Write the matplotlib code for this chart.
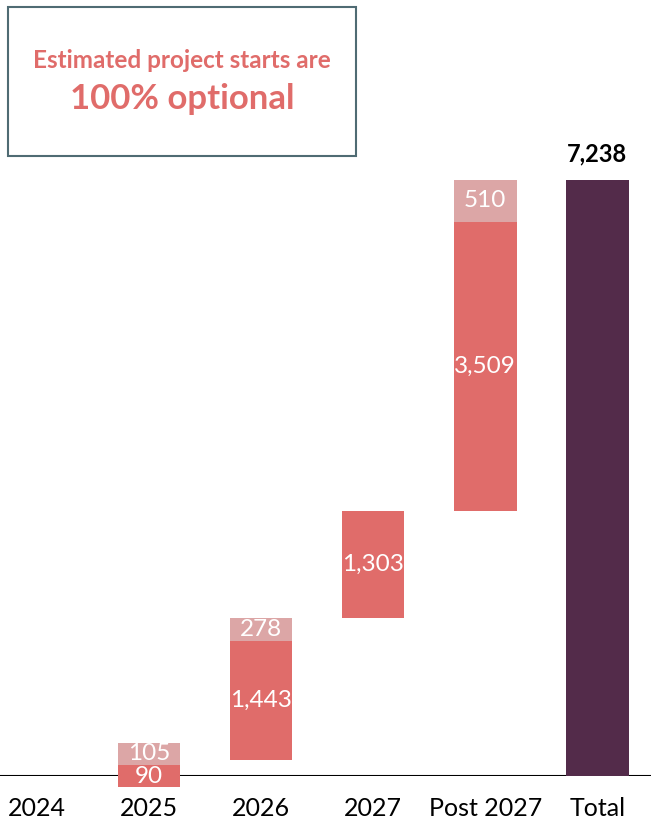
import matplotlib.pyplot as plt
from matplotlib.patches import Rectangle

plt.rcParams['font.family'] = ['Lato', 'DejaVu Sans']

categories = ['2024', '2025', '2026', '2027', 'Post 2027', 'Total']
# firm starts (dark) and additional starts (light) per year
firm = [0, 90, 1443, 1303, 3509]
extra = [0, 105, 278, 0, 510]
total = 7238

dark = '#E06C6A'
light = '#DCA6A6'
total_col = '#532B4A'

fig = plt.figure(figsize=(6.51, 8.21), dpi=100)
ax = fig.add_axes([0, 45 / 821, 1, 776 / 821])

w = 0.56
min_h = 270  # smallest drawn segment so labels fit
cum = 0
for i, (f, e) in enumerate(zip(firm, extra)):
    if f + e == 0:
        continue
    small = f < min_h
    if small:
        b = cum - min_h / 2
    else:
        b = cum
    hf = max(f, min_h)
    ax.bar(i, hf, bottom=b, width=w, color=dark, zorder=3, clip_on=False)
    ax.text(i, b + hf / 2, f'{f:,}', ha='center', va='center', color='white', fontsize=17.5, zorder=4)
    b2 = b + hf if small else cum + f
    if e:
        he = max(e, min_h)
        ax.bar(i, he, bottom=b2, width=w, color=light, zorder=3, clip_on=False)
        ax.text(i, b2 + he / 2, f'{e:,}', ha='center', va='center', color='white', fontsize=17.5, zorder=4)
    cum += f + e

ax.bar(5, total, width=w, color=total_col, zorder=3)
ax.text(5, total + 180, f'{total:,}', ha='center', va='bottom', fontsize=17, fontweight='bold')

ax.axhline(0, color='black', lw=1.5, zorder=2)
ax.set_xlim(-0.33, 5.48)
ax.set_ylim(0, 776 / (596 / 7238))
ax.set_xticks(range(len(categories)))
ax.set_xticklabels(categories, fontsize=18)
ax.tick_params(length=0, pad=15)
ax.set_yticks([])
for s in ax.spines.values():
    s.set_visible(False)

fig.patches.append(Rectangle((8 / 651, 1 - 156 / 821), 348 / 651, 149 / 821,
                             transform=fig.transFigure, fill=False, edgecolor='#4F6B73', lw=1.5))
fig.text(182 / 651, 1 - 61 / 821, 'Estimated project starts are', ha='center', va='center',
         color=dark, fontsize=17.5, fontweight='bold')
fig.text(182 / 651, 1 - 99 / 821, '100% optional', ha='center', va='center',
         color=dark, fontsize=25, fontweight='bold')

fig.savefig('out.png', dpi=100)
